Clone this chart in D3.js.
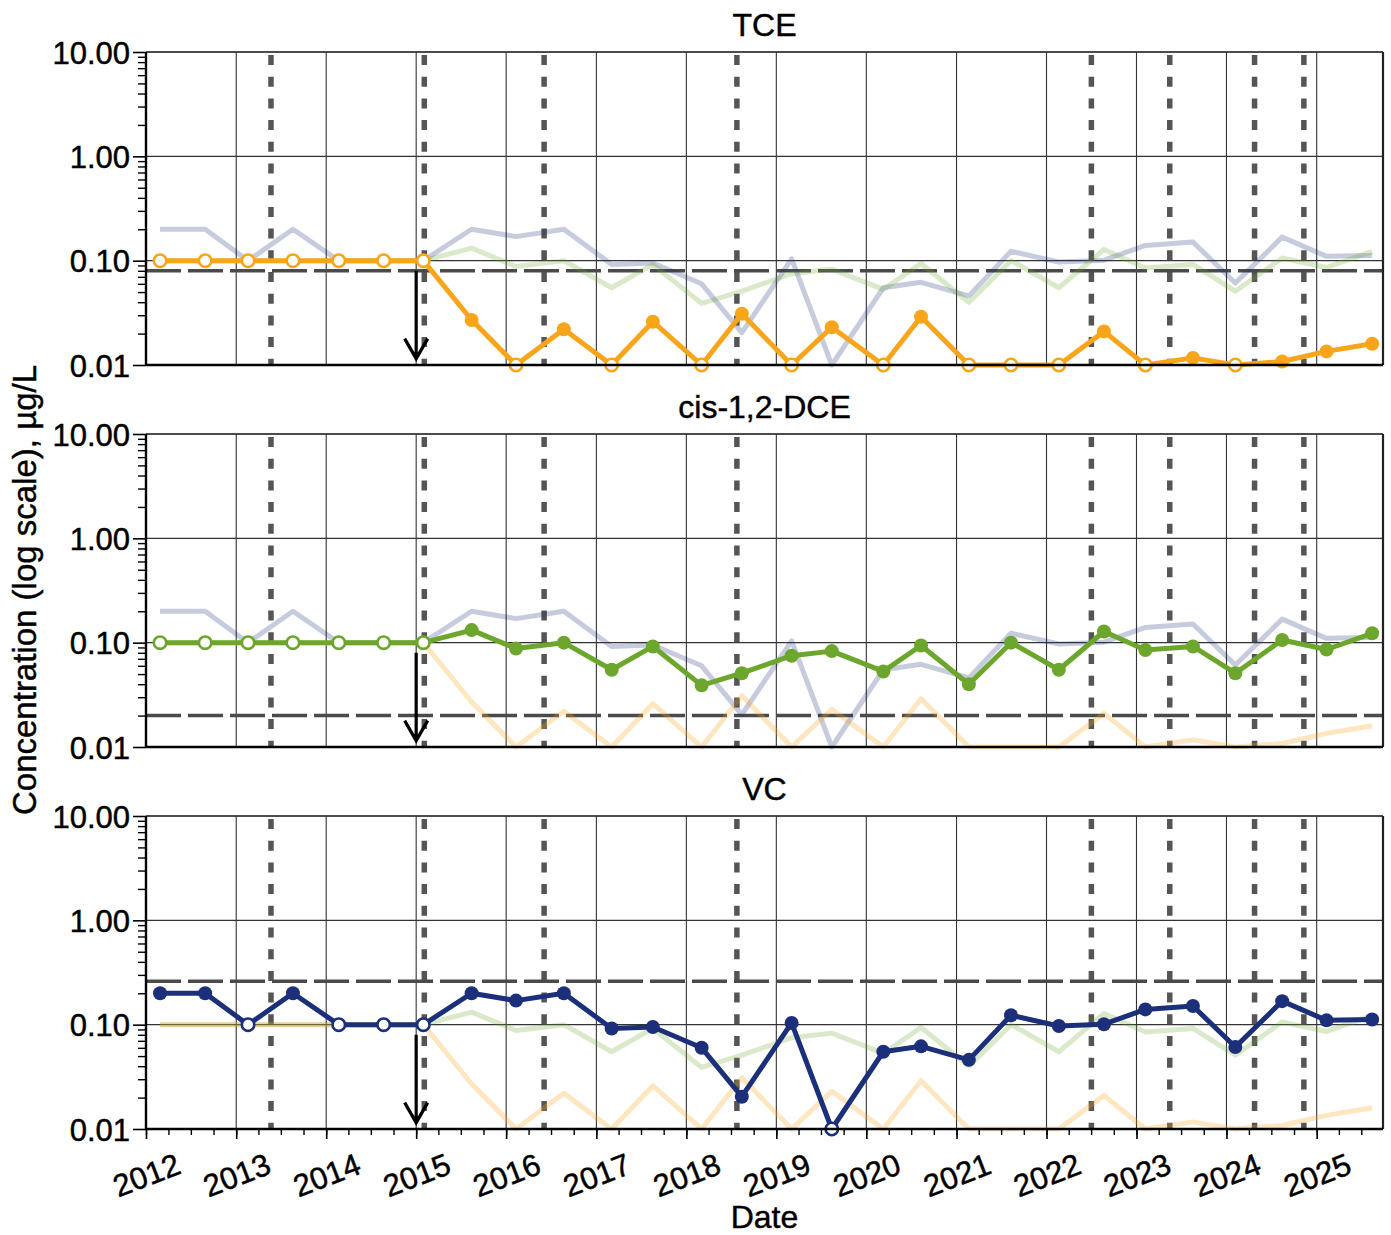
<!DOCTYPE html>
<html lang="en">
<head>
    <title>Concentration time series (log scale)</title>
    <meta charset="UTF-8">
    <script src="https://d3js.org/d3.v7.min.js"></script>
    <style>
      body { margin: 0; background: #fff; }
      text { font-family: "Liberation Sans", Arial, sans-serif; fill: #000; stroke: #000; stroke-width: 0.45px; }
    </style>
</head>
<body>
    <div id="viz">
      <svg width="1391" height="1235"></svg>
    </div>

    <script>
      // sampling dates (roughly twice a year)
      let sampleDates = ["2012-02-27","2012-08-28","2013-02-18","2013-08-19","2014-02-21","2014-08-22","2015-01-30",
        "2015-08-14","2016-02-10","2016-08-22","2017-03-04","2017-08-18","2018-03-04","2018-08-14","2019-03-04",
        "2019-08-14","2020-03-10","2020-08-10","2021-02-20","2021-08-10","2022-02-20","2022-08-22","2023-02-06",
        "2023-08-18","2024-02-06","2024-08-14","2025-02-10","2025-08-14"]

      let tceValues = [0.1,0.1,0.1,0.1,0.1,0.1,0.1, 0.027,0.01,0.022,0.01,0.026,0.01,0.031,0.01,0.023,0.01,0.029,
        0.01,0.01,0.01,0.021,0.01,0.0117,0.01,0.0108,0.0135,0.016]
      let tceNonDetect = [1,1,1,1,1,1,1, 0,1,0,1,0,1,0,1,0,1,0,1,1,1,0,1,0,1,0,0,0]

      let dceValues = [0.1,0.1,0.1,0.1,0.1,0.1,0.1, 0.132,0.088,0.10,0.055,0.092,0.039,0.051,0.075,0.083,0.053,0.094,
        0.040,0.10,0.055,0.128,0.085,0.092,0.051,0.106,0.086,0.123]
      let dceNonDetect = [1,1,1,1,1,1,1, 0,0,0,0,0,0,0,0,0,0,0,0,0,0,0,0,0,0,0,0,0]

      let vcValues = [0.2,0.2,0.1,0.2,0.1,0.1,0.1, 0.2,0.17,0.2,0.092,0.095,0.06,0.0204,0.104,0.01,0.055,0.062,
        0.046,0.123,0.097,0.101,0.14,0.151,0.061,0.168,0.11,0.112]
      let vcNonDetect = [0,0,1,0,1,1,1, 0,0,0,0,0,0,0,0,1,0,0,0,0,0,0,0,0,0,0,0,0]

      let panelTitles = ["TCE", "cis-1,2-DCE", "VC"]
      let screeningLevels = [0.08, 0.02, 0.26]
      let eventDates = ["2013-05-22","2015-02-03","2016-06-03","2018-07-25","2022-07-02","2023-05-16","2024-04-24","2024-11-10"]
      let arrowDate = "2015-01-01", arrowFrom = 0.08, arrowTo = 0.0115
      let yTickValues = [0.01, 0.1, 1, 10]

      let seriesColors = ["#F8A51C", "#6CA62C", "#1C2F7B"]
      let series = [tceValues, dceValues, vcValues]
      let nonDetects = [tceNonDetect, dceNonDetect, vcNonDetect]

      let parse = d3.timeParse("%Y-%m-%d")
      let dates = sampleDates.map(parse)

      let svg = d3.select("svg")
      let left = 146, right = 1383, panelH = 313, panelTops = [52, 434, 816]

      let xScale = d3.scaleTime()
        .domain([parse("2012-01-01"), parse("2025-09-27")])
        .range([left, right])

      // minor log ticks 2..9 in each decade
      let minorTicks = []
      ;[0.01, 0.1, 1].forEach(dec => d3.range(2, 10).forEach(k => minorTicks.push(dec * k)))

      panelTitles.forEach((title, p) => {
        let top = panelTops[p], bottom = top + panelH
        let yScale = d3.scaleLog().domain([0.01, 10]).range([bottom, top])
        let g = svg.append("g").attr("class", "panel")

        // grid
        g.selectAll("line.vgrid")
          .data(xScale.ticks(d3.timeYear.every(1)).slice(1))
          .enter().append("line").attr("class", "vgrid")
          .attr("x1", d => xScale(d)).attr("x2", d => xScale(d))
          .attr("y1", top).attr("y2", bottom)
          .attr("stroke", "#333").attr("stroke-width", 1.1)
        g.selectAll("line.hgrid")
          .data(yTickValues.slice(1))
          .enter().append("line").attr("class", "hgrid")
          .attr("x1", left).attr("x2", right)
          .attr("y1", d => yScale(d)).attr("y2", d => yScale(d))
          .attr("stroke", "#333").attr("stroke-width", 1.1)

        // vertical event lines
        g.selectAll("line.event")
          .data(eventDates.map(parse))
          .enter().append("line").attr("class", "event")
          .attr("x1", d => xScale(d)).attr("x2", d => xScale(d))
          .attr("y1", top + 3).attr("y2", bottom)
          .attr("stroke", "#555").attr("stroke-width", 5.5)
          .attr("stroke-dasharray", "10,11.7")

        // horizontal screening level
        g.append("line")
          .attr("x1", left).attr("x2", right)
          .attr("y1", yScale(screeningLevels[p])).attr("y2", yScale(screeningLevels[p]))
          .attr("stroke", "#4a4a4a").attr("stroke-width", 3.5)
          .attr("stroke-dasharray", "35,7")

        let line = d3.line()
          .x((d, i) => xScale(dates[i]))
          .y(d => yScale(d))

        // faded other compounds (VC drawn under DCE, TCE on top)
        ;[2, 1, 0].filter(s => s !== p).forEach(s => {
          g.append("path").datum(series[s])
            .attr("d", line)
            .attr("fill", "none")
            .attr("stroke", seriesColors[s])
            .attr("stroke-opacity", s === 0 ? 0.28 : 0.25)
            .attr("stroke-width", 5)
            .attr("stroke-linejoin", "round")
        })

        // main compound
        g.append("path").datum(series[p])
          .attr("d", line)
          .attr("fill", "none")
          .attr("stroke", seriesColors[p])
          .attr("stroke-width", 5)
          .attr("stroke-linejoin", "round")

        g.selectAll("circle.pt")
          .data(series[p])
          .enter().append("circle").attr("class", "pt")
          .attr("cx", (d, i) => xScale(dates[i]))
          .attr("cy", d => yScale(d))
          .attr("r", (d, i) => nonDetects[p][i] ? 6.2 : 7)
          .attr("fill", (d, i) => nonDetects[p][i] ? "#fff" : seriesColors[p])
          .attr("stroke", seriesColors[p])
          .attr("stroke-width", (d, i) => nonDetects[p][i] ? 2.6 : 0)

        // downward arrow
        let ax = xScale(parse(arrowDate)), ay1 = yScale(arrowFrom), ay2 = yScale(arrowTo)
        g.append("path")
          .attr("d", `M${ax},${ay1}L${ax},${ay2 - 1}M${ax - 11.5},${ay2 - 20}L${ax},${ay2}L${ax + 11.5},${ay2 - 20}`)
          .attr("fill", "none").attr("stroke", "#000").attr("stroke-width", 3.2)

        // frame: top and right
        g.append("line").attr("x1", left).attr("x2", right).attr("y1", top).attr("y2", top)
          .attr("stroke", "#333").attr("stroke-width", 1.3)
        g.append("line").attr("x1", right).attr("x2", right).attr("y1", top).attr("y2", bottom)
          .attr("stroke", "#222").attr("stroke-width", 2.2)

        // y axis
        let yAxis = d3.axisLeft(yScale).tickValues(yTickValues)
          .tickFormat(d3.format(".2f")).tickSize(13).tickPadding(3)
        let yAxisG = g.append("g").attr("transform", `translate(${left},0)`).call(yAxis)
        let yMinor = d3.axisLeft(yScale).tickValues(minorTicks).tickFormat("").tickSize(8)
        let yMinorG = g.append("g").attr("transform", `translate(${left},0)`).call(yMinor)
        yMinorG.select(".domain").remove()
        yAxisG.selectAll("text").style("font-size", "31px").attr("dy", "0.36em")
        yAxisG.selectAll("line").attr("stroke", "#000").attr("stroke-width", 1.6)
        yMinorG.selectAll("line").attr("stroke", "#000").attr("stroke-width", 1.4)
        yAxisG.select(".domain").attr("stroke", "#000").attr("stroke-width", 2.4)
          .attr("d", `M0,${top}V${bottom}`)

        // bottom spine / x axis
        if (p === 2) {
          let xAxis = d3.axisBottom(xScale).ticks(d3.timeYear.every(1))
            .tickFormat(d3.timeFormat("%Y")).tickSize(10)
          let xAxisG = g.append("g").attr("transform", `translate(0,${bottom})`).call(xAxis)
          let xMinor = d3.axisBottom(xScale).ticks(d3.timeMonth.every(3)).tickFormat("").tickSize(6)
          let xMinorG = g.append("g").attr("transform", `translate(0,${bottom})`).call(xMinor)
          xMinorG.select(".domain").remove()
          xAxisG.select(".domain").attr("stroke", "#000").attr("stroke-width", 2.4)
            .attr("d", `M${left},0H${right}`)
          xAxisG.selectAll("line").attr("stroke", "#000").attr("stroke-width", 1.6)
          xMinorG.selectAll("line").attr("stroke", "#000").attr("stroke-width", 1.4)
          xAxisG.selectAll("text")
            .style("font-size", "31px")
            .attr("y", 0).attr("dy", "0.35em")
            .attr("text-anchor", "middle")
            .attr("transform", "translate(0,46) rotate(-21)")
        } else {
          g.append("line").attr("x1", left).attr("x2", right).attr("y1", bottom).attr("y2", bottom)
            .attr("stroke", "#000").attr("stroke-width", 2.4)
        }

        // title
        g.append("text")
          .attr("x", (left + right) / 2).attr("y", top - 16)
          .attr("text-anchor", "middle")
          .style("font-size", "32px")
          .text(title)
      })

      svg.append("text")
        .attr("transform", "translate(36,590) rotate(-90)")
        .attr("text-anchor", "middle")
        .style("font-size", "33px")
        .text("Concentration (log scale), µg/L")

      svg.append("text")
        .attr("x", (left + right) / 2).attr("y", 1228)
        .attr("text-anchor", "middle")
        .style("font-size", "32px")
        .text("Date")
    </script>
</body>
</html>
